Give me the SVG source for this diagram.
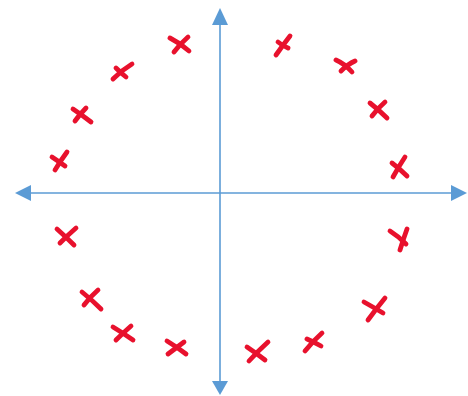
<svg xmlns="http://www.w3.org/2000/svg" width="468" height="396" viewBox="0 0 468 396">
<style>
.ax{stroke:#5b9bd5;stroke-width:1.6;fill:none}
.hd{fill:#5b9bd5}
.x path{stroke:#e8112d;stroke-width:4.8;stroke-linecap:round;stroke-linejoin:round;fill:none}
</style>
<rect width="468" height="396" fill="#fff"/>
<g id="axes">
<line class="ax" x1="28" y1="193" x2="454" y2="193"/>
<line class="ax" x1="220" y1="22" x2="220" y2="383"/>
<polygon class="hd" points="15,193 31,185 31,201"/>
<polygon class="hd" points="467,193 451,185 451,201"/>
<polygon class="hd" points="220,8 212,25 228,25"/>
<polygon class="hd" points="220,395 212,381 228,381"/>
</g>
<g class="x">
<g id="m1"><path d="M170,38 Q180,43 189,51"/><path d="M188,37 Q180,44 174,52"/></g>
<g id="m2"><path d="M276,55 Q283,45 290,36"/><path d="M278,42 Q283,46 288,48"/></g>
<g id="m3"><path d="M113,79 Q122,70 132,64"/><path d="M116,68 Q121,73 126,77"/></g>
<g id="m4"><path d="M336,60 Q345,64 352,72"/><path d="M341,71 Q348,64 355,61"/></g>
<g id="m5"><path d="M73,109 Q82,115 91,122"/><path d="M75,121 Q80,114 86,108"/></g>
<g id="m6"><path d="M370,103 Q379,110 387,118"/><path d="M372,116 Q378,108 385,102"/></g>
<g id="m7"><path d="M55,170 Q61,160 67,152"/><path d="M52,157 Q58,161 65,166"/></g>
<g id="m8"><path d="M393,177 Q399,166 405,157"/><path d="M392,163 Q400,169 407,176"/></g>
<g id="m9"><path d="M57,229 Q66,237 74,245"/><path d="M60,243 Q68,235 76,228"/></g>
<g id="m10"><path d="M390,231 Q398,236 406,244"/><path d="M407,229 Q403,240 400,250"/></g>
<g id="m11"><path d="M82,292 Q92,300 101,309"/><path d="M84,305 Q90,297 98,290"/></g>
<g id="m12"><path d="M368,320 Q376,309 385,298"/><path d="M364,302 Q373,307 383,313"/></g>
<g id="m13"><path d="M113,327 Q123,333 133,340"/><path d="M116,340 Q123,333 131,326"/></g>
<g id="m14"><path d="M305,351 Q313,341 322,333"/><path d="M307,339 Q314,342 321,346"/></g>
<g id="m15"><path d="M167,341 Q177,347 186,354"/><path d="M168,354 Q176,348 184,342"/></g>
<g id="m16"><path d="M249,361 Q258,351 268,342"/><path d="M247,347 Q256,353 265,360"/></g>
</g>
</svg>
